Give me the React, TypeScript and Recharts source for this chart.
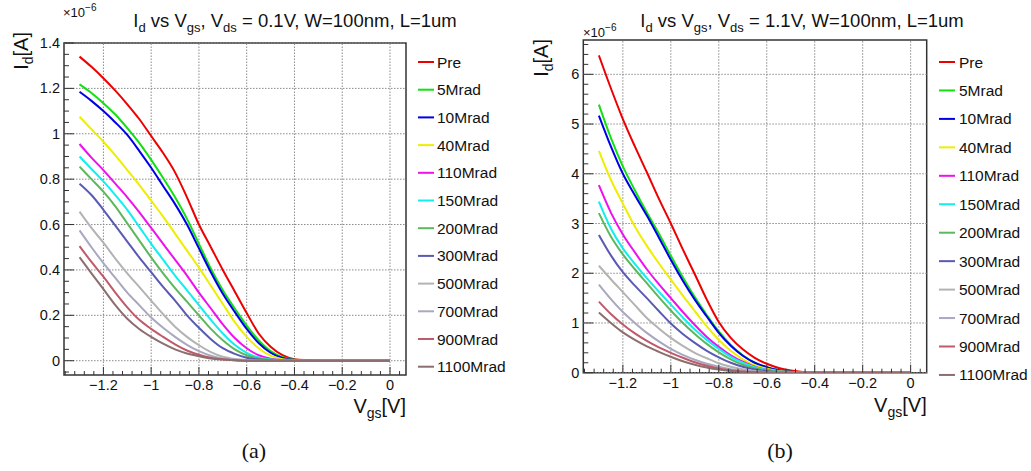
import React from "react";
import { LineChart, Line, XAxis, YAxis, ReferenceLine, ReferenceArea } from "recharts";

// Vgs sample points [V]
const vgs = [
  -1.3, -1.25, -1.2, -1.15, -1.1, -1.05, -1.0, -0.95, -0.9, -0.85, -0.8, -0.75,
  -0.7, -0.65, -0.6, -0.55, -0.5, -0.45, -0.4, -0.35, -0.3, -0.2, -0.1, 0,
];

const doses = ["Pre", "5Mrad", "10Mrad", "40Mrad", "110Mrad", "150Mrad", "200Mrad", "300Mrad", "500Mrad", "700Mrad", "900Mrad", "1100Mrad"];
const colors = ["#ee0000", "#11e011", "#0000e6", "#eeee00", "#ee11ee", "#11eeee", "#5cb85c", "#5a5ab5", "#b3b3b3", "#a8a8c0", "#c05a6a", "#8c6e6e"];

// (a) Vds = 0.1V, Id in 1e-6 A
const preA = [1.34, 1.295, 1.245, 1.19, 1.13, 1.065, 0.99, 0.915, 0.83, 0.72, 0.6, 0.5, 0.4, 0.305, 0.21, 0.12, 0.062, 0.025, 0.007, 0.002, 0, 0, 0, 0];
const m5A = [1.218, 1.18, 1.135, 1.085, 1.025, 0.96, 0.885, 0.805, 0.72, 0.625, 0.515, 0.405, 0.31, 0.23, 0.155, 0.09, 0.042, 0.015, 0.004, 0.001, 0, 0, 0, 0];
const m10A = [1.185, 1.145, 1.1, 1.05, 0.995, 0.925, 0.85, 0.77, 0.69, 0.6, 0.495, 0.39, 0.295, 0.215, 0.14, 0.078, 0.035, 0.012, 0.003, 0.001, 0, 0, 0, 0];
const m40A = [1.075, 1.02, 0.965, 0.905, 0.84, 0.775, 0.705, 0.635, 0.56, 0.485, 0.41, 0.33, 0.25, 0.17, 0.105, 0.055, 0.022, 0.007, 0.002, 0, 0, 0, 0, 0];
const m110A = [0.955, 0.895, 0.84, 0.78, 0.72, 0.655, 0.585, 0.515, 0.445, 0.375, 0.3, 0.23, 0.16, 0.1, 0.055, 0.024, 0.009, 0.003, 0.001, 0, 0, 0, 0, 0];
const m150A = [0.9, 0.845, 0.79, 0.73, 0.665, 0.59, 0.515, 0.445, 0.375, 0.31, 0.245, 0.18, 0.12, 0.07, 0.035, 0.014, 0.005, 0.002, 0, 0, 0, 0, 0, 0];
const m200A = [0.855, 0.8, 0.745, 0.68, 0.605, 0.53, 0.455, 0.385, 0.32, 0.26, 0.2, 0.14, 0.09, 0.05, 0.024, 0.01, 0.004, 0.001, 0, 0, 0, 0, 0, 0];
const m300A = [0.78, 0.73, 0.665, 0.595, 0.525, 0.455, 0.39, 0.325, 0.265, 0.2, 0.145, 0.095, 0.055, 0.03, 0.013, 0.005, 0.002, 0, 0, 0, 0, 0, 0, 0];
const m500A = [0.657, 0.585, 0.52, 0.45, 0.385, 0.325, 0.265, 0.205, 0.15, 0.105, 0.068, 0.038, 0.018, 0.008, 0.003, 0.001, 0, 0, 0, 0, 0, 0, 0, 0];
const m700A = [0.574, 0.5, 0.43, 0.365, 0.3, 0.245, 0.19, 0.145, 0.105, 0.07, 0.042, 0.022, 0.01, 0.004, 0.001, 0, 0, 0, 0, 0, 0, 0, 0, 0];
const m900A = [0.505, 0.435, 0.37, 0.3, 0.235, 0.18, 0.14, 0.105, 0.072, 0.045, 0.026, 0.013, 0.006, 0.002, 0, 0, 0, 0, 0, 0, 0, 0, 0, 0];
const m1100A = [0.456, 0.385, 0.315, 0.245, 0.185, 0.14, 0.105, 0.075, 0.05, 0.032, 0.02, 0.01, 0.005, 0.002, 0, 0, 0, 0, 0, 0, 0, 0, 0, 0];

// (b) Vds = 1.1V, Id in 1e-6 A
const preB = [6.38, 5.72, 5.1, 4.55, 4.03, 3.5, 3.0, 2.48, 1.98, 1.47, 1.02, 0.7, 0.47, 0.3, 0.18, 0.095, 0.045, 0.015, 0.004, 0.001, 0, 0, 0, 0];
const m5B = [5.39, 4.72, 4.15, 3.67, 3.22, 2.8, 2.35, 1.92, 1.52, 1.16, 0.83, 0.56, 0.35, 0.2, 0.11, 0.05, 0.02, 0.006, 0.002, 0, 0, 0, 0, 0];
const m10B = [5.17, 4.55, 4.0, 3.57, 3.16, 2.72, 2.27, 1.85, 1.47, 1.13, 0.8, 0.54, 0.34, 0.2, 0.11, 0.05, 0.02, 0.006, 0.002, 0, 0, 0, 0, 0];
const m40B = [4.46, 3.88, 3.4, 2.94, 2.55, 2.2, 1.87, 1.55, 1.24, 0.93, 0.66, 0.44, 0.27, 0.15, 0.08, 0.035, 0.013, 0.004, 0.001, 0, 0, 0, 0, 0];
const m110B = [3.77, 3.22, 2.78, 2.42, 2.08, 1.78, 1.5, 1.22, 0.96, 0.72, 0.52, 0.35, 0.22, 0.12, 0.06, 0.025, 0.009, 0.003, 0.001, 0, 0, 0, 0, 0];
const m150B = [3.44, 2.9, 2.5, 2.19, 1.9, 1.63, 1.37, 1.11, 0.87, 0.66, 0.48, 0.32, 0.2, 0.11, 0.055, 0.022, 0.008, 0.002, 0, 0, 0, 0, 0, 0];
const m200B = [3.21, 2.74, 2.38, 2.08, 1.8, 1.52, 1.25, 1.0, 0.78, 0.58, 0.41, 0.27, 0.16, 0.09, 0.045, 0.018, 0.006, 0.002, 0, 0, 0, 0, 0, 0];
const m300B = [2.77, 2.36, 2.02, 1.75, 1.5, 1.24, 0.99, 0.78, 0.6, 0.44, 0.31, 0.2, 0.12, 0.065, 0.03, 0.012, 0.004, 0.001, 0, 0, 0, 0, 0, 0];
const m500B = [2.15, 1.88, 1.62, 1.36, 1.1, 0.89, 0.7, 0.54, 0.4, 0.29, 0.19, 0.12, 0.07, 0.035, 0.015, 0.006, 0.002, 0, 0, 0, 0, 0, 0, 0];
const m700B = [1.77, 1.48, 1.22, 1.0, 0.8, 0.63, 0.48, 0.36, 0.26, 0.18, 0.12, 0.07, 0.04, 0.02, 0.008, 0.003, 0.001, 0, 0, 0, 0, 0, 0, 0];
const m900B = [1.43, 1.18, 0.97, 0.79, 0.64, 0.51, 0.4, 0.3, 0.21, 0.14, 0.085, 0.048, 0.024, 0.011, 0.004, 0.001, 0, 0, 0, 0, 0, 0, 0, 0];
const m1100B = [1.21, 1.0, 0.81, 0.66, 0.53, 0.42, 0.32, 0.23, 0.16, 0.105, 0.063, 0.034, 0.016, 0.006, 0.002, 0, 0, 0, 0, 0, 0, 0, 0, 0];

const seriesA = [preA, m5A, m10A, m40A, m110A, m150A, m200A, m300A, m500A, m700A, m900A, m1100A];
const seriesB = [preB, m5B, m10B, m40B, m110B, m150B, m200B, m300B, m500B, m700B, m900B, m1100B];

// axes
const X_DOMAIN = [-1.365, 0.067];
const xMajor = [-1.2, -1, -0.8, -0.6, -0.4, -0.2, 0];
const yMajorA = [0, 0.2, 0.4, 0.6, 0.8, 1, 1.2, 1.4];
const yMajorB = [0, 1, 2, 3, 4, 5, 6];

const steps = (from: number, to: number, step: number) => {
  const out: number[] = [];
  const n = Math.round((to - from) / step);
  for (let i = 0; i <= n; i++) out.push(+(from + i * step).toFixed(3));
  return out;
};
const xMinor = steps(-1.36, 0.04, 0.04);
const yMinorA = steps(-0.05, 1.4, 0.05);
const yMinorB = steps(0, 6.6, 0.2);

const FONT = "'Liberation Sans', Arial, Helvetica, sans-serif";
const SERIF = "'Liberation Serif', 'Times New Roman', serif";
const fmt = (v: number) => (Math.abs(v) < 1e-9 ? "0" : (v < 0 ? "\u2212" : "") + parseFloat(Math.abs(v).toFixed(2)));
const isMajor = (v: number, majors: number[]) => majors.some((m) => Math.abs(m - v) < 1e-6);

const renderXTick = (p: any) => {
  const { x, y, payload } = p;
  const major = isMajor(payload.value, xMajor);
  return (
    <g>
      <line x1={x} y1={y} x2={x} y2={y - (major ? 8 : 4)} stroke="#333" strokeWidth={1} />
      {major && (
        <text x={x} y={y + 15} textAnchor="middle" fontSize={14.5} fontFamily={FONT} fill="#111">
          {fmt(payload.value)}
        </text>
      )}
    </g>
  );
};

const makeYTick = (majors: number[]) => (p: any) => {
  const { x, y, payload } = p;
  const major = isMajor(payload.value, majors);
  return (
    <g>
      <line x1={x} y1={y} x2={x + (major ? 10 : 5)} y2={y} stroke="#333" strokeWidth={1} />
      {major && (
        <text x={x - 4} y={y + 5} textAnchor="end" fontSize={14.5} fontFamily={FONT} fill="#111">
          {fmt(payload.value)}
        </text>
      )}
    </g>
  );
};

type PanelProps = {
  left: number;
  width: number;
  series: number[][];
  yDomain: number[];
  yMajor: number[];
  yMinor: number[];
  margin: { top: number; right: number; bottom: number; left: number };
};

function Panel({ left, width, series, yDomain, yMajor, yMinor, margin }: PanelProps) {
  const data = vgs.map((x, i) => {
    const row: Record<string, number> = { x };
    series.forEach((s, k) => (row["s" + k] = s[i]));
    return row;
  });
  return (
    <div style={{ position: "absolute", left, top: 0 }}>
      <LineChart width={width} height={400} data={data} margin={margin}>
        {xMajor.map((v) => (
          <ReferenceLine key={"gx" + v} x={v} stroke="#8a8a8a" strokeDasharray="1.5 1.5" />
        ))}
        {yMajor.map((v) => (
          <ReferenceLine key={"gy" + v} y={v} stroke="#8a8a8a" strokeDasharray="1.5 1.5" />
        ))}
        <XAxis
          dataKey="x"
          type="number"
          domain={X_DOMAIN}
          allowDataOverflow
          ticks={xMinor}
          interval={0}
          axisLine={false}
          tickLine={false}
          tickSize={0}
          tickMargin={0}
          height={20}
          tick={renderXTick}
        />
        <YAxis
          type="number"
          domain={yDomain}
          allowDataOverflow
          ticks={yMinor}
          interval={0}
          axisLine={false}
          tickLine={false}
          tickSize={0}
          tickMargin={0}
          width={30}
          tick={makeYTick(yMajor)}
        />
        {series.map((_, k) => (
          <Line
            key={k}
            dataKey={"s" + k}
            type="monotone"
            stroke={colors[k]}
            strokeWidth={2}
            dot={false}
            isAnimationActive={false}
          />
        ))}
        <ReferenceArea
          x1={X_DOMAIN[0]}
          x2={X_DOMAIN[1]}
          y1={yDomain[0]}
          y2={yDomain[1]}
          fill="none"
          fillOpacity={0}
          stroke="#333"
          strokeWidth={1.5}
          ifOverflow="visible"
        />
      </LineChart>
    </div>
  );
}

function Title({ x, vds }: { x: number; vds: string }) {
  return (
    <text x={x} y={27} textAnchor="middle" fontSize={18.5} fontFamily={FONT} fill="#111">
      <tspan>I</tspan>
      <tspan dy={5} fontSize={13}>d</tspan>
      <tspan dy={-5}> vs V</tspan>
      <tspan dy={5} fontSize={13}>gs</tspan>
      <tspan dy={-5}>, V</tspan>
      <tspan dy={5} fontSize={13}>ds</tspan>
      <tspan dy={-5}>{" = " + vds + ", W=100nm, L=1um"}</tspan>
    </text>
  );
}

function Labels({ ox, plotTop, plotRight, expY, xLabelY, rowStep, lineX, textX }: any) {
  return (
    <g fontFamily={FONT} fill="#111">
      <text x={ox + 63} y={expY} fontSize={13}>
        ×10
        <tspan dy={-6} fontSize={10}>−6</tspan>
      </text>
      <text x={ox + 28} y={plotTop - 11} textAnchor="end" fontSize={20} transform={`rotate(-90 ${ox + 28} ${plotTop - 11})`}>
        <tspan>I</tspan>
        <tspan dy={5} fontSize={14}>d</tspan>
        <tspan dy={-5}>[A]</tspan>
      </text>
      <text x={plotRight} y={xLabelY} textAnchor="end" fontSize={20}>
        <tspan>V</tspan>
        <tspan dy={5} fontSize={14}>gs</tspan>
        <tspan dy={-5}>[V]</tspan>
      </text>
      {doses.map((d, i) => {
        const cy = 62 + i * rowStep;
        return (
          <g key={d}>
            <line x1={lineX} x2={lineX + 16} y1={cy} y2={cy} stroke={colors[i]} strokeWidth={2} />
            <text x={textX} y={cy + 5.5} fontSize={15.5}>
              {d}
            </text>
          </g>
        );
      })}
    </g>
  );
}

export default function App() {
  return (
    <div style={{ position: "absolute", left: 0, top: 0, width: 1031, height: 471, background: "#fff", overflow: "hidden" }}>
      <Panel
        left={0}
        width={520}
        series={seriesA}
        yDomain={[-0.063, 1.4]}
        yMajor={yMajorA}
        yMinor={yMinorA}
        margin={{ top: 43, right: 114, bottom: 5, left: 34 }}
      />
      <Panel
        left={520}
        width={511}
        series={seriesB}
        yDomain={[0, 6.69]}
        yMajor={yMajorB}
        yMinor={yMinorB}
        margin={{ top: 40, right: 104.3, bottom: 7.3, left: 33.3 }}
      />
      <svg width={1031} height={471} style={{ position: "absolute", left: 0, top: 0, pointerEvents: "none" }}>
        <Title x={295} vds="0.1V" />
        <Title x={802} vds="1.1V" />
        <Labels ox={0} plotTop={43} plotRight={406} expY={17} xLabelY={413} rowStep={27.7} lineX={418} textX={437} />
        <Labels ox={520} plotTop={50} plotRight={926.7} expY={37} xLabelY={412} rowStep={28.45} lineX={939} textX={959} />
        <text x={254} y={458} textAnchor="middle" fontSize={22} fontFamily={SERIF} fill="#111">
          (a)
        </text>
        <text x={780} y={458} textAnchor="middle" fontSize={22} fontFamily={SERIF} fill="#111">
          (b)
        </text>
      </svg>
    </div>
  );
}
